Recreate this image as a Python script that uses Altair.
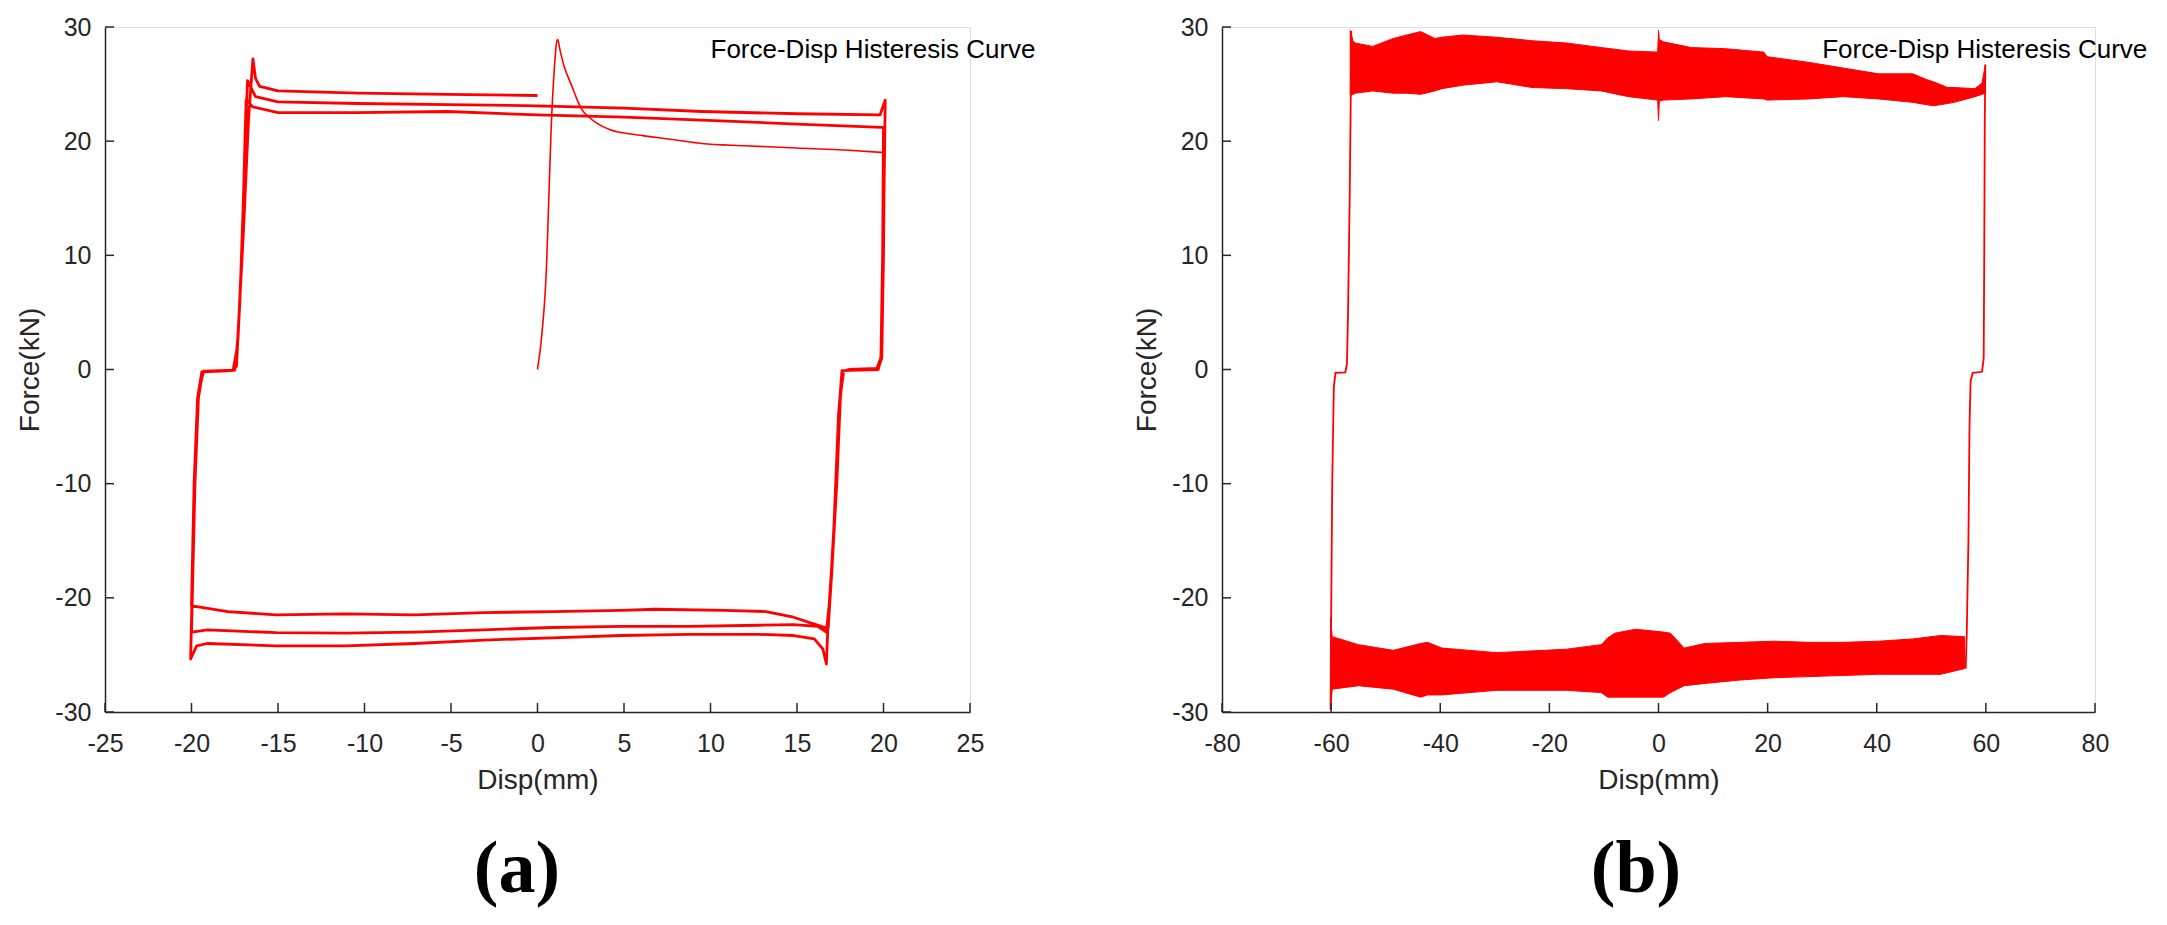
import altair as alt
import pandas as pd

RED = "#ff0000"
AX = "#262626"
FONT = "Liberation Sans"
SERIF = "Liberation Serif"

W_A, W_B, H = 865, 873, 685

# ---------------- panel (a) data ----------------
xt_a = [-25, -20, -15, -10, -5, 0, 5, 10, 15, 20, 25]
xt_b = [-80, -60, -40, -20, 0, 20, 40, 60, 80]
yt = [-30, -20, -10, 0, 10, 20, 30]

# virgin loading curve
virgin_x = [0, 0.26, 0.52, 0.65, 0.78, 0.98, 1.1, 1.17, 1.3, 1.55, 1.8, 2.07, 2.3, 2.6, 2.9, 3.4,
            4.2, 4.66, 5.5, 6.5, 8.0, 9.5, 12, 15, 18, 20]
virgin_y = [0, 3.2, 9.0, 14.8, 20.7, 26.5, 28.6, 28.9, 28.0, 26.5, 25.5, 24.5, 23.6, 22.7, 22.2, 21.6,
            21.0, 20.8, 20.6, 20.4, 20.1, 19.8, 19.6, 19.4, 19.2, 19.0]

unload1_x = [20.05, 20.0, 19.9, 19.7, 18.0, 17.6, 17.5, 17.3, 17.0, 16.8]
unload1_y = [19.0, 10.0, 1.0, 0.1, 0.0, -0.2, -2.7, -10.0, -18.0, -22.7]
lowerA_x = [16.0, 14.8, 13.2, 10.8, 6.8, 4.85, 0.86, -3.1, -7.1, -11.1, -15.1, -17.9, -19.97]
lowerA_y = [-22.3, -21.7, -21.2, -21.1, -21.0, -21.1, -21.2, -21.3, -21.5, -21.4, -21.5, -21.2, -20.7]
reload1_x = [-20.0, -19.85, -19.65, -19.4, -17.6, -17.4, -17.2, -17.0, -16.9, -16.84]
reload1_y = [-20.7, -10.0, -2.5, -0.2, -0.1, 0.3, 6.1, 14.85, 20.7, 23.6]
upper3_x = [-16.45, -15.0, -10.4, -5.2, 0, 5, 9.5, 15, 19.9]
upper3_y = [23.0, 22.5, 22.5, 22.6, 22.3, 22.1, 21.85, 21.5, 21.2]
unload2_x = [20.0, 19.95, 19.85, 19.6, 17.7, 17.45, 17.2, 16.9, 16.7]
unload2_y = [21.2, 10.0, 1.0, 0.05, -0.1, -3.0, -12.0, -20.0, -23.0]
lowerB_x = [16.2, 14.8, 12.8, 8.8, 4.85, 0.86, -3.1, -7.1, -11.1, -15.1, -19.1, -19.97]
lowerB_y = [-22.5, -22.35, -22.4, -22.5, -22.5, -22.6, -22.8, -23.0, -23.1, -23.05, -22.8, -23.0]
reload2_x = [-20.0, -19.8, -19.6, -19.3, -17.5, -17.3, -17.1, -16.9, -16.76]
reload2_y = [-23.0, -10.0, -2.0, -0.15, -0.05, 3.0, 10.0, 20.0, 25.3]
upper2_x = [-16.3, -15.0, -10.4, -5.2, 0, 5, 9.5, 15, 19.8, 20.1]
upper2_y = [23.9, 23.45, 23.3, 23.2, 23.1, 22.9, 22.6, 22.4, 22.3, 23.6]
unload3_x = [20.0, 19.9, 19.7, 17.6, 17.4, 17.1, 16.8, 16.7]
unload3_y = [12.0, 1.5, 0.0, -0.1, -4.0, -15.0, -22.0, -25.8]
lowerC_x = [16.5, 16.0, 14.8, 12.8, 8.8, 4.85, 0.86, -3.1, -7.1, -11.1, -15.1, -19.1, -19.7, -20.05]
lowerC_y = [-24.5, -23.6, -23.3, -23.2, -23.2, -23.3, -23.5, -23.7, -24.0, -24.2, -24.2, -24.0, -24.2, -25.35]
reload3_x = [-19.85, -19.6, -19.35, -17.6, -17.35, -17.0, -16.7, -16.45]
reload3_y = [-12.0, -2.5, -0.2, -0.1, 2.0, 12.0, 22.0, 27.2]
upper1_x = [-16.3, -16.06, -15.0, -10.4, -5.2, 0]
upper1_y = [25.5, 24.8, 24.4, 24.2, 24.1, 24.0]

loop_x = (unload1_x + lowerA_x + reload1_x + upper3_x + unload2_x + lowerB_x
          + reload2_x + upper2_x + unload3_x + lowerC_x + reload3_x + upper1_x)
loop_y = (unload1_y + lowerA_y + reload1_y + upper3_y + unload2_y + lowerB_y
          + reload2_y + upper2_y + unload3_y + lowerC_y + reload3_y + upper1_y)

# ---------------- panel (b) data ----------------
ub_x = [-56.5, -56.0, -55.6, -52.4, -48.6, -46.1, -43.6, -41.0, -39.7, -35.9, -29.6, -23.2, -16.9,
        -10.5, -5.5, -0.15, 0.0, 0.15, 0.9, 6.0, 12.3, 19.3, 19.9, 27.6, 33.9, 40.3, 46.6, 49.1,
        50.4, 53.0, 54.2, 58.0, 59.3, 59.9]
ub_hi = [29.7, 28.8, 28.6, 28.3, 29.0, 29.3, 29.6, 29.0, 29.1, 29.3, 29.1, 28.8, 28.6,
         28.2, 27.9, 27.8, 29.7, 28.9, 28.7, 28.2, 28.1, 27.8, 27.4, 26.9, 26.4, 25.9, 25.9, 25.4,
         25.2, 24.7, 24.7, 24.6, 25.1, 26.7]
ub_lo = [24.0, 24.1, 24.2, 24.4, 24.2, 24.2, 24.1, 24.4, 24.6, 24.9, 25.2, 24.7, 24.6,
         24.4, 23.9, 23.6, 21.8, 23.5, 23.6, 23.7, 23.9, 23.7, 23.6, 23.7, 23.9, 23.7, 23.4, 23.2,
         23.1, 23.3, 23.4, 23.9, 24.1, 24.2]

lb_x = [-60.1, -59.8, -55.0, -48.6, -43.6, -42.3, -39.7, -29.6, -16.9, -10.5, -9.3, -8.0, -4.2,
        0.9, 2.2, 4.7, 8.5, 14.9, 21.2, 27.6, 33.9, 40.3, 46.6, 51.7, 56.1]
lb_hi = [-21.8, -23.4, -24.1, -24.6, -24.0, -23.9, -24.4, -24.8, -24.5, -24.1, -23.5, -23.1, -22.75,
         -23.0, -23.1, -24.4, -24.0, -23.9, -23.8, -23.9, -23.9, -23.8, -23.6, -23.3, -23.4]
lb_lo = [-29.8, -28.0, -27.7, -28.0, -28.7, -28.5, -28.5, -28.1, -28.1, -28.3, -28.7, -28.7, -28.7,
         -28.7, -28.3, -27.7, -27.5, -27.2, -27.0, -26.9, -26.8, -26.7, -26.7, -26.7, -26.2]

left_x = [-60.1, -60.0, -59.8, -59.5, -59.2, -57.4, -57.1, -56.9, -56.6, -56.4, -56.3]
left_y = [-29.75, -22.0, -10.0, -1.5, -0.3, -0.25, 0.5, 5.0, 15.0, 24.0, 29.65]
right_x = [59.9, 59.8, 59.7, 59.6, 59.3, 57.6, 57.2, 57.0, 56.8, 56.5, 56.3]
right_y = [26.7, 22.0, 10.0, 1.0, -0.2, -0.3, -1.0, -5.0, -15.0, -23.0, -26.2]


def path(xs, ys, seg="s"):
    return pd.DataFrame({"x": xs, "y": ys, "i": list(range(len(xs))), "seg": seg})


def xenc(field, dom, ticks, w):
    return alt.X(
        field, type="quantitative", title="Disp(mm)",
        scale=alt.Scale(domain=dom, nice=False, zero=False),
        axis=alt.Axis(values=ticks, labelExpr="'' + datum.value", labelFont=FONT, labelFontSize=25,
                      labelColor=AX, labelPadding=19, ticks=False, tickSize=0, grid=False,
                      domainColor=AX, domainWidth=1.5, labelFlush=False, labelOverlap=False,
                      titleFont=FONT, titleFontSize=28, titleFontWeight="normal", titleColor=AX,
                      titleX=w / 2, titleY=76, titleAlign="center", titleBaseline="alphabetic"),
    )


def yenc(field):
    return alt.Y(
        field, type="quantitative", title="Force(kN)",
        scale=alt.Scale(domain=[-30, 30], nice=False, zero=False),
        axis=alt.Axis(values=yt, labelExpr="'' + datum.value", labelFont=FONT, labelFontSize=25,
                      labelColor=AX, labelPadding=14, ticks=False, tickSize=0, grid=False,
                      domainColor=AX, domainWidth=1.5, labelFlush=False, labelOverlap=False,
                      titleFont=FONT, titleFontSize=28, titleFontWeight="normal", titleColor=AX,
                      titleX=-67, titleY=H / 2, titleAngle=270, titleAlign="center",
                      titleBaseline="alphabetic"),
    )


def tick_layers(dom, ticks, w):
    xt_df = pd.DataFrame({"t": ticks})
    yt_df = pd.DataFrame({"t": yt})
    xr = alt.Chart(xt_df).mark_rule(color=AX, strokeWidth=1.5).encode(
        x=xenc("t", dom, ticks, w), y=alt.value(H), y2=alt.value(H - 9))
    yr = alt.Chart(yt_df).mark_rule(color=AX, strokeWidth=1.5).encode(
        y=yenc("t"), x=alt.value(0), x2=alt.value(9))
    return [xr, yr]


def labels(dom, ticks, w, tx, letter, lx):
    t = alt.Chart(pd.DataFrame({"a": [0]})).mark_text(
        text="Force-Disp Histeresis Curve", font=FONT, fontSize=26, color="#000000",
        align="left", baseline="middle").encode(
        x=alt.XDatum(tx, scale=alt.Scale(domain=dom, nice=False, zero=False)),
        y=alt.YDatum(28, scale=alt.Scale(domain=[-30, 30], nice=False, zero=False)))
    L = alt.Chart(pd.DataFrame({"a": [0]})).mark_text(
        text=letter, font=SERIF, fontSize=74, fontWeight="bold", color="#000000",
        align="center", baseline="alphabetic").encode(
        x=alt.value(lx), y=alt.value(865))
    return [t, L]


dom_a = [-25, 25]
virgin = alt.Chart(path(virgin_x, virgin_y)).mark_line(color=RED, strokeWidth=1.6, interpolate="monotone").encode(
    x=xenc("x", dom_a, xt_a, W_A), y=yenc("y"), order="i:Q")
loop = alt.Chart(path(loop_x, loop_y)).mark_line(color=RED, strokeWidth=2.8, strokeJoin="round").encode(
    x=xenc("x", dom_a, xt_a, W_A), y=yenc("y"), order="i:Q")

panel_a = alt.layer(
    virgin, loop, *tick_layers(dom_a, xt_a, W_A),
    *labels(dom_a, xt_a, W_A, 10, "(a)", 412)
).properties(width=W_A, height=H)

dom_b = [-80, 80]
ub = alt.Chart(pd.DataFrame({"x": ub_x, "hi": ub_hi, "lo": ub_lo})).mark_area(
    color=RED, stroke=RED, strokeWidth=1, opacity=1).encode(
    x=xenc("x", dom_b, xt_b, W_B), y=yenc("hi"), y2="lo")
lb = alt.Chart(pd.DataFrame({"x": lb_x, "hi": lb_hi, "lo": lb_lo})).mark_area(
    color=RED, stroke=RED, strokeWidth=1, opacity=1).encode(
    x=xenc("x", dom_b, xt_b, W_B), y=yenc("hi"), y2="lo")
verts = alt.Chart(pd.concat([path(left_x, left_y, "L"), path(right_x, right_y, "R")])).mark_line(
    color=RED, strokeWidth=1.8).encode(
    x=xenc("x", dom_b, xt_b, W_B), y=yenc("y"), detail="seg:N", order="i:Q")

panel_b = alt.layer(
    ub, lb, verts, *tick_layers(dom_b, xt_b, W_B),
    *labels(dom_b, xt_b, W_B, 30, "(b)", 414)
).properties(width=W_B, height=H)

chart = alt.hconcat(panel_a, panel_b, spacing=95).properties(
    padding={"left": 7, "top": 6, "right": 0, "bottom": 0}
).configure_view(stroke=None).configure(background="white")

chart.save("out.html", embed_options={"renderer": "svg", "actions": False})
